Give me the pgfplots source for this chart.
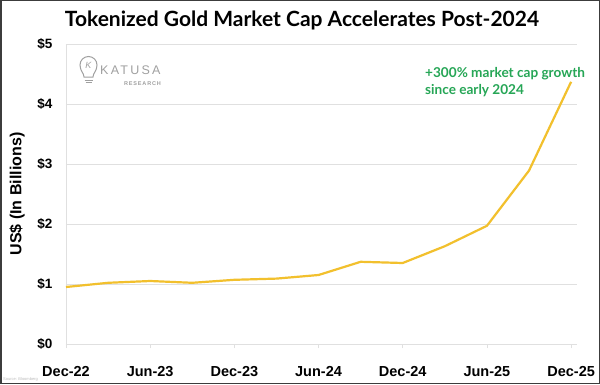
\documentclass[border=0pt]{standalone}
\usepackage{fontspec}
\setmainfont{Liberation Sans}
\newfontfamily\titlefont{Lato}
\usepackage{pgfplots}
\pgfplotsset{compat=1.18}
\definecolor{gold}{RGB}{242,192,45}
\definecolor{grn}{RGB}{38,166,86}
\definecolor{gridc}{RGB}{224,224,224}
\definecolor{logoc}{RGB}{160,160,160}
\definecolor{framec}{RGB}{60,60,60}
\pgfplotstableread{
m v
0 0.95
3 1.02
6 1.05
9 1.02
12 1.07
15 1.09
18 1.15
21 1.37
24 1.35
27 1.63
30 1.97
33 2.89
36 4.37
}\gold
\begin{document}
\begin{tikzpicture}[x=1pt,y=1pt]
\useasboundingbox (0,0) rectangle (600,384);
\fill[white] (0,0) rectangle (600,384);
\begin{axis}[
  at={(66pt,40pt)}, anchor=south west,
  scale only axis, width=511pt, height=300pt,
  xmin=0, xmax=36.42, ymin=0, ymax=5,
  axis x line*=bottom, axis y line*=left,
  axis line style={draw=gridc, line width=0.8pt, -},
  ymajorgrids, grid style={draw=gridc, line width=0.8pt},
  xtick={0,6,12,18,24,30,36},
  xticklabels={Dec-22,Jun-23,Dec-23,Jun-24,Dec-24,Jun-25,Dec-25},
  ytick={0,1,2,3,4,5},
  yticklabels={\$0,\$1,\$2,\$3,\$4,\$5},
  tick align=outside, major tick length=4pt,
  xtick style={draw=gridc, line width=0.8pt},
  ytick style={draw=none},
  xticklabel style={font=\bfseries\fontsize{14.5}{14.5}\selectfont, yshift=-15pt},
  yticklabel style={font=\bfseries\fontsize{13.5}{13.5}\selectfont, xshift=-6pt},
  ylabel={US\$ (In Billions)},
  ylabel style={font=\bfseries\fontsize{16}{16}\selectfont, yshift=6pt},
  clip=false,
]
\addplot[color=gold, line width=2.2pt, line join=round] table[x=m,y=v] {\gold};
\end{axis}
% title
\node[font=\titlefont\bfseries\fontsize{21}{21}\selectfont, anchor=base] at (302,358) {Tokenized Gold Market Cap Accelerates Post-2024};
% annotation
\node[font=\titlefont\bfseries\fontsize{13.6}{16.5}\selectfont, text=grn, anchor=north west, align=left, inner sep=0] at (425,316.5) {+300\% market cap growth\\since early 2024};
% logo
\begin{scope}[draw=logoc, line width=1pt]
\draw (84,307) .. controls (84,311) and (80,313) .. (80,319) arc[start angle=180, end angle=0, radius=8.5] .. controls (97,313) and (93,311) .. (93,307) -- cycle;
\draw (84.5,304) -- (92.5,304);
\draw (85.5,301.5) -- (91.5,301.5);
\end{scope}
\node[text=logoc, font=\fontsize{9}{9}\selectfont\itshape] at (88.5,319) {K};
\node[text=logoc, font=\fontsize{12.5}{12.5}\selectfont\addfontfeatures{LetterSpace=18}, anchor=base west, inner sep=0] at (100,309) {KATUSA};
\node[text=logoc, font=\bfseries\fontsize{5.5}{5.5}\selectfont\addfontfeatures{LetterSpace=15}, anchor=base west, inner sep=0] at (124,298.5) {RESEARCH};
% source
\node[text=logoc!70, font=\fontsize{4}{4}\selectfont, anchor=base west, inner sep=0] at (3,4) {Source: Bloomberg};
% frame
\draw[framec, line width=1.5pt] (0.75,0.75) rectangle (599.25,383.25);
\end{tikzpicture}
\end{document}
